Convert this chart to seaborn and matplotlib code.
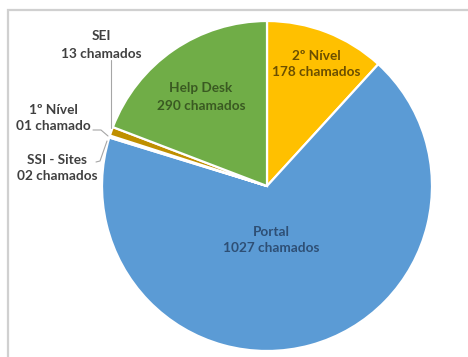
import matplotlib
matplotlib.use("Agg")
import matplotlib.pyplot as plt
import seaborn as sns
from matplotlib.patches import Rectangle

# Ticket counts per support queue (clockwise from 12 o'clock)
categories = ["2º Nível", "Portal", "SSI - Sites", "1º Nível", "SEI", "Help Desk"]
counts = [178, 1027, 2, 1, 13, 290]
count_labels = ["178 chamados", "1027 chamados", "02 chamados", "01 chamado",
                "13 chamados", "290 chamados"]

sns.set_theme(style="white")
plt.rcParams["font.family"] = ["Lato", "DejaVu Sans"]

slice_colors = sns.color_palette(["#FFC000", "#5B9BD5", "#FFE699", "#C5A000", "#BF8F00", "#70AD47"])

W, H, DPI = 468, 357, 100
fig = plt.figure(figsize=(W / DPI, H / DPI), dpi=DPI)
fig.patch.set_facecolor("white")

# light chart-area frame
fig.patches.append(Rectangle((8 / W, -0.1), 1.2, (H - 10) / H + 0.1,
                             transform=fig.transFigure, fill=False,
                             edgecolor="#D0D0D0", linewidth=1.6, zorder=0))

ax = fig.add_axes([0, 0, 1, 1])
cx, cy, R = 267, 186, 165  # pie centre and radius in pixels


def px(x, y):
    return (x - cx) / R, (cy - y) / R


ax.pie(counts, colors=slice_colors, startangle=90, counterclock=False,
       radius=1.0, wedgeprops=dict(edgecolor="white", linewidth=1.6))

ax.set_xlim(-cx / R, (W - cx) / R)
ax.set_ylim(-(H - cy) / R, cy / R)
ax.set_aspect("equal")
ax.axis("off")

fs = 9.8
inside = {
    "2º Nível": ((316, 64), "#6B4F00"),
    "Portal": ((271, 240), "#2E4F75"),
    "Help Desk": ((201, 97), "#3A5A22"),
}
outside = {
    "SEI": (101, 45),
    "1º Nível": (53, 118),
    "SSI - Sites": (57, 168),
}
for name, lab in zip(categories, count_labels):
    if name in inside:
        (x, y), col = inside[name]
    else:
        (x, y), col = outside[name], "#404040"
    ax.text(*px(x, y), f"{name}\n{lab}", ha="center", va="center",
            fontsize=fs, fontweight="bold", color=col, linespacing=1.5)

# leader lines for the small slices
lc = dict(color="#A6A6A6", linewidth=0.8)
ax.plot(*zip(px(111, 60), px(111, 128)), **lc)
ax.plot(*zip(px(93, 130), px(101, 130), px(108, 136)), **lc)
ax.plot(*zip(px(96, 162), px(100, 161), px(107, 141)), **lc)

fig.savefig("out.png", dpi=DPI, facecolor="white")
